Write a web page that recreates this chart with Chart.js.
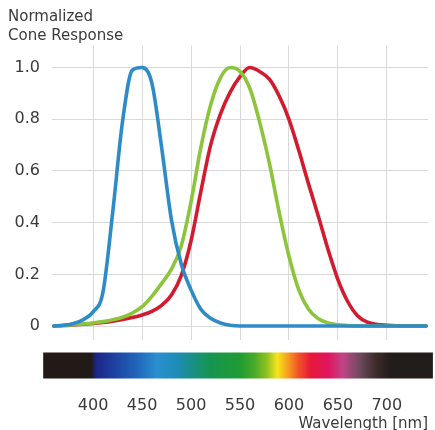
<!DOCTYPE html>
<html>
<head>
<meta charset="utf-8">
<script src="https://cdn.jsdelivr.net/npm/chart.js@4/dist/chart.umd.min.js"></script>
<style>
  html, body { margin: 0; padding: 0; background: #ffffff; overflow: hidden; }
  #wrap { width: 435px; height: 430px; position: relative; }
</style>
</head>
<body>
<div id="wrap"><canvas id="c" width="435" height="430"></canvas></div>
<script>
// ---- data ----
const wavelengths = [360,370,380,390,400,410,420,430,440,450,460,470,480,490,500,510,520,530,540,550,
                     560,570,580,590,600,610,620,630,640,650,660,670,680,690,700,710,720,730,740];
const sCone = [0,0.003,0.01,0.025,0.055,0.13,0.44,0.79,0.99,1.0,0.94,0.69,0.41,0.24,0.14,0.065,0.03,0.012,0.003,0,
               0,0,0,0,0,0,0,0,0,0,0,0,0,0,0,0,0,0,0];
const mCone = [0,0.002,0.005,0.008,0.012,0.017,0.024,0.034,0.05,0.075,0.115,0.165,0.22,0.31,0.48,0.69,0.855,0.96,1.0,0.985,
               0.92,0.79,0.63,0.44,0.27,0.14,0.065,0.028,0.012,0.005,0.002,0,0,0,0,0,0,0,0];
const lCone = [0,0.002,0.004,0.007,0.01,0.014,0.019,0.025,0.033,0.043,0.057,0.08,0.12,0.195,0.33,0.52,0.70,0.82,0.905,0.965,
               1.0,0.985,0.955,0.89,0.80,0.68,0.55,0.425,0.295,0.18,0.095,0.04,0.015,0.006,0.003,0.001,0,0,0];
const xTickValues = [400,450,500,550,600,650,700];
const yTickValues = [0,0.2,0.4,0.6,0.8,1.0];
const titleLines = ['Normalized','Cone Response'];
const xAxisTitle = 'Wavelength [nm]';
// visible spectrum strip under the plot: [wavelength nm, colour]
const spectrumStops = [
  [349,'#221a17'],[398,'#221a17'],[403,'#1c2585'],[420,'#1d3fa0'],[445,'#2066bb'],[465,'#2a8fd0'],
  [485,'#1f8cb8'],[500,'#1a8f8a'],[520,'#17954f'],[550,'#1f9c34'],[565,'#4aaa2a'],[578,'#95c21f'],
  [588,'#f4e51c'],[598,'#f7a41e'],[610,'#f0522a'],[622,'#e6193a'],[640,'#e01460'],[655,'#c24585'],
  [672,'#6f4a5e'],[690,'#3a2a28'],[705,'#221c1a'],[747,'#221c1a']
];

const FONT = "'DejaVu Sans', 'Liberation Sans', Arial, sans-serif";
const TEXT = '#3a3a3a';

const toPts = arr => wavelengths.map((w, i) => ({x: w, y: arr[i]}));

const spectrumPlugin = {
  id: 'spectrum',
  afterDraw(chart) {
    const xs = chart.scales.x, ca = chart.chartArea, ctx = chart.ctx;
    const lo = spectrumStops[0][0], hi = spectrumStops[spectrumStops.length-1][0];
    const x0 = xs.getPixelForValue(lo), x1 = xs.getPixelForValue(hi);
    const g = ctx.createLinearGradient(x0, 0, x1, 0);
    spectrumStops.forEach(([w, c]) => g.addColorStop((w - lo) / (hi - lo), c));
    ctx.save();
    ctx.fillStyle = g;
    ctx.fillRect(x0, ca.bottom + 12.5, x1 - x0, 26);
    ctx.restore();
  }
};

new Chart(document.getElementById('c'), {
  type: 'line',
  data: {
    datasets: [
      {label: 'S', data: toPts(sCone), borderColor: '#2d8cc8', borderWidth: 3.6},
      {label: 'M', data: toPts(mCone), borderColor: '#8cc43c', borderWidth: 3.6},
      {label: 'L', data: toPts(lCone), borderColor: '#d31a2e', borderWidth: 3.6}
    ]
  },
  options: {
    responsive: false,
    animation: false,
    devicePixelRatio: 1,
    layout: {padding: {left: 8, right: 7, top: 0, bottom: 0}},
    elements: {
      point: {radius: 0, hoverRadius: 0},
      line: {cubicInterpolationMode: 'monotone', borderCapStyle: 'round', borderJoinStyle: 'round', fill: false}
    },
    plugins: {
      legend: {display: false},
      tooltip: {enabled: false},
      title: {
        display: true, text: titleLines, align: 'start', color: TEXT,
        font: {family: FONT, size: 15, weight: 'normal', lineHeight: 1.27},
        padding: {top: 7.5, bottom: 0}
      }
    },
    scales: {
      x: {
        type: 'linear', min: 358, max: 742,
        afterBuildTicks: s => { s.ticks = xTickValues.map(v => ({value: v})); },
        afterFit: s => { s.height = 90; s.paddingRight = 0; s.paddingLeft = 0; },
        grid: {color: '#d9d9d9', lineWidth: 1, drawTicks: true, tickLength: 54, tickColor: 'rgba(0,0,0,0)'},
        border: {display: false},
        ticks: {
          color: TEXT, padding: 2, maxRotation: 0, autoSkip: false,
          font: {family: FONT, size: 16, lineHeight: 1.2},
          callback: v => String(v)
        },
        title: {
          display: true, text: xAxisTitle, align: 'end', color: TEXT,
          font: {family: FONT, size: 15, lineHeight: 1.0},
          padding: {top: 0, bottom: -1.5}
        }
      },
      y: {
        type: 'linear', min: -0.054, max: 1.085,
        afterBuildTicks: s => { s.ticks = yTickValues.map(v => ({value: v})); },
        afterFit: s => { s.width = 44; s.paddingTop = 0; s.paddingBottom = 0; },
        grid: {color: '#d9d9d9', lineWidth: 1, drawTicks: false},
        border: {display: false},
        ticks: {
          color: TEXT, padding: 12,
          font: {family: FONT, size: 16, lineHeight: 1.2},
          callback: v => (v === 0 ? '0' : Number(v).toFixed(1))
        }
      }
    }
  },
  plugins: [spectrumPlugin]
});
</script>
</body>
</html>
